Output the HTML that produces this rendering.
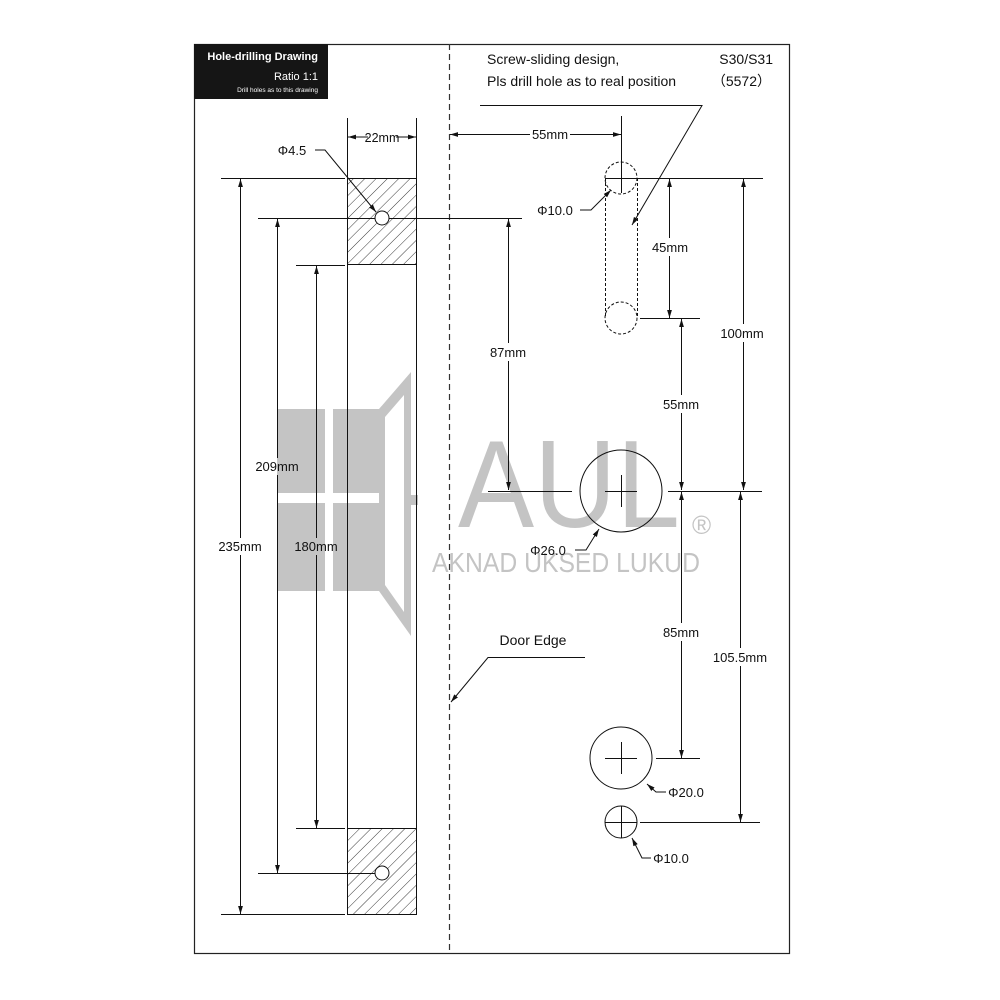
<!DOCTYPE html>
<html><head><meta charset="utf-8"><style>
html,body{margin:0;padding:0;background:#fff}
svg{display:block}
text{font-family:"Liberation Sans",sans-serif;fill:#111}
</style></head><body>
<svg width="1000" height="1000" viewBox="0 0 1000 1000" xmlns="http://www.w3.org/2000/svg">
<defs>
<pattern id="h" width="8" height="8" patternUnits="userSpaceOnUse" patternTransform="rotate(45)">
<line x1="0" y1="0" x2="0" y2="8" stroke="#222" stroke-width="0.9"/>
</pattern>
<marker id="a" viewBox="0 0 10 10" refX="10" refY="5" markerWidth="8" markerHeight="8" orient="auto-start-reverse" markerUnits="userSpaceOnUse">
<path d="M0,2 L10,5 L0,8 z" fill="#111"/>
</marker>
</defs>
<rect width="1000" height="1000" fill="#fff"/>

<!-- watermark -->
<g fill="#c4c4c4">
<rect x="277" y="409" width="48" height="84"/>
<rect x="333" y="409" width="46" height="84"/>
<rect x="277" y="503" width="48" height="88"/>
<rect x="333" y="503" width="46" height="88"/>
<path d="M379,409 L411,372 L411,636 L379,591 Z M385,417 L404,395 L404,612 L385,585 Z" fill-rule="evenodd"/>
<rect x="409" y="495" width="9" height="10"/>
<text x="458" y="527" font-size="124" textLength="222" lengthAdjust="spacingAndGlyphs" style="fill:#c4c4c4">AUL</text>
<text x="432" y="572" font-size="28" textLength="268" lengthAdjust="spacingAndGlyphs" style="fill:#c4c4c4">AKNAD UKSED LUKUD</text>
<text x="692" y="534" font-size="26" style="fill:#c4c4c4">®</text>
</g>

<!-- frame -->
<rect x="194.5" y="44.5" width="595" height="909" fill="none" stroke="#222" stroke-width="1.2"/>
<line x1="449.5" y1="44" x2="449.5" y2="953" stroke="#333" stroke-width="1.2" stroke-dasharray="6,4"/>

<!-- header -->
<rect x="194" y="44" width="134" height="55" fill="#151515"/>
<text x="318" y="60" font-size="11" font-weight="bold" text-anchor="end" style="fill:#fff">Hole-drilling Drawing</text>
<text x="318" y="80" font-size="11" text-anchor="end" style="fill:#fff">Ratio 1:1</text>
<text x="318" y="92" font-size="6.5" text-anchor="end" style="fill:#fff">Drill holes as to this drawing</text>

<g stroke="#111" stroke-width="1" fill="none">
<!-- plate -->
<rect x="347" y="178" width="69" height="87" fill="url(#h)" stroke="none"/>
<rect x="347" y="828" width="69" height="87" fill="url(#h)" stroke="none"/>
<line x1="347.5" y1="118" x2="347.5" y2="915"/>
<line x1="416.5" y1="118" x2="416.5" y2="915"/>
<line x1="347" y1="178.5" x2="416" y2="178.5"/>
<line x1="347" y1="264.5" x2="416" y2="264.5"/>
<line x1="347" y1="828.5" x2="416" y2="828.5"/>
<line x1="347" y1="914.5" x2="416" y2="914.5"/>
<circle cx="382" cy="218" r="7" fill="#fff"/>
<circle cx="382" cy="873" r="7" fill="#fff"/>
<line x1="348" y1="137" x2="368" y2="137" marker-start="url(#a)"/>
<line x1="396" y1="137" x2="416" y2="137" marker-end="url(#a)"/>
<path d="M315,150 L325,150 L376,212" marker-end="url(#a)"/>

<!-- left dims -->
<line x1="221" y1="178.5" x2="345" y2="178.5"/>
<line x1="258" y1="218.5" x2="375" y2="218.5"/>
<line x1="389" y1="218.5" x2="522" y2="218.5"/>
<line x1="296" y1="265.5" x2="345" y2="265.5"/>
<line x1="296" y1="828.5" x2="345" y2="828.5"/>
<line x1="258" y1="873.5" x2="375" y2="873.5"/>
<line x1="221" y1="914.5" x2="345" y2="914.5"/>
<line x1="240.5" y1="538" x2="240.5" y2="179" marker-end="url(#a)"/>
<line x1="240.5" y1="555" x2="240.5" y2="914" marker-end="url(#a)"/>
<line x1="277.5" y1="458" x2="277.5" y2="219" marker-end="url(#a)"/>
<line x1="277.5" y1="475" x2="277.5" y2="873" marker-end="url(#a)"/>
<line x1="316.5" y1="538" x2="316.5" y2="266" marker-end="url(#a)"/>
<line x1="316.5" y1="555" x2="316.5" y2="828" marker-end="url(#a)"/>

<!-- right: 55mm top -->
<line x1="530" y1="134.5" x2="450" y2="134.5" marker-end="url(#a)"/>
<line x1="570" y1="134.5" x2="621" y2="134.5" marker-end="url(#a)"/>
<line x1="621.5" y1="116" x2="621.5" y2="193"/>
<!-- slot -->
<g stroke-dasharray="3,2">
<circle cx="621" cy="178" r="16"/>
<circle cx="621" cy="318" r="16"/>
<line x1="605.5" y1="178" x2="605.5" y2="318"/>
<line x1="637.5" y1="178" x2="637.5" y2="318"/>
</g>
<line x1="605" y1="178.5" x2="763" y2="178.5"/>
<line x1="640" y1="318.5" x2="700" y2="318.5"/>
<path d="M480,105.5 L702,105.5 L632,225" marker-end="url(#a)"/>
<path d="M580,210 L591,210 L611,190" marker-end="url(#a)"/>
<line x1="669.5" y1="238" x2="669.5" y2="179" marker-end="url(#a)"/>
<line x1="669.5" y1="256" x2="669.5" y2="318" marker-end="url(#a)"/>
<line x1="743.5" y1="324" x2="743.5" y2="179" marker-end="url(#a)"/>
<line x1="743.5" y1="342" x2="743.5" y2="490" marker-end="url(#a)"/>
<line x1="681.5" y1="395" x2="681.5" y2="319" marker-end="url(#a)"/>
<line x1="681.5" y1="413" x2="681.5" y2="490" marker-end="url(#a)"/>
<line x1="508.5" y1="343" x2="508.5" y2="219" marker-end="url(#a)"/>
<line x1="508.5" y1="361" x2="508.5" y2="490" marker-end="url(#a)"/>
<!-- big hole -->
<line x1="488" y1="491.5" x2="572" y2="491.5"/>
<line x1="668" y1="491.5" x2="762" y2="491.5"/>
<circle cx="621" cy="491" r="41"/>
<line x1="605" y1="491.5" x2="637" y2="491.5"/>
<line x1="621.5" y1="475" x2="621.5" y2="507"/>
<path d="M575,550 L586,550 L599,529" marker-end="url(#a)"/>
<!-- lower dims -->
<line x1="681.5" y1="623" x2="681.5" y2="492" marker-end="url(#a)"/>
<line x1="681.5" y1="641" x2="681.5" y2="758" marker-end="url(#a)"/>
<line x1="740.5" y1="648" x2="740.5" y2="492" marker-end="url(#a)"/>
<line x1="740.5" y1="666" x2="740.5" y2="822" marker-end="url(#a)"/>
<circle cx="621" cy="758" r="31"/>
<line x1="605" y1="758.5" x2="637" y2="758.5"/>
<line x1="621.5" y1="742" x2="621.5" y2="774"/>
<line x1="656" y1="758.5" x2="700" y2="758.5"/>
<path d="M666,792 L656,792 L647,784" marker-end="url(#a)"/>
<circle cx="621" cy="822" r="16"/>
<line x1="605" y1="822.5" x2="637" y2="822.5"/>
<line x1="621.5" y1="806" x2="621.5" y2="838"/>
<line x1="640" y1="822.5" x2="760" y2="822.5"/>
<path d="M651,858 L642,858 L632,838" marker-end="url(#a)"/>
<!-- door edge -->
<path d="M585,657.5 L488,657.5 L451,702" marker-end="url(#a)"/>
</g>

<g font-size="13">
<text x="292" y="155" text-anchor="middle">Φ4.5</text>
<text x="382" y="142" text-anchor="middle" font-size="12.5">22mm</text>
<text x="240" y="551" text-anchor="middle">235mm</text>
<text x="277" y="471" text-anchor="middle">209mm</text>
<text x="316" y="551" text-anchor="middle">180mm</text>
<text x="487" y="64" font-size="14">Screw-sliding design,</text>
<text x="487" y="86" font-size="14">Pls drill hole as to real position</text>
<text x="773" y="64" font-size="14" text-anchor="end">S30/S31</text>
<text x="771" y="86" font-size="14" text-anchor="end">（5572）</text>
<text x="550" y="139" text-anchor="middle">55mm</text>
<text x="555" y="215" text-anchor="middle">Φ10.0</text>
<text x="670" y="252" text-anchor="middle">45mm</text>
<text x="742" y="338" text-anchor="middle">100mm</text>
<text x="681" y="409" text-anchor="middle">55mm</text>
<text x="508" y="357" text-anchor="middle">87mm</text>
<text x="548" y="555" text-anchor="middle">Φ26.0</text>
<text x="681" y="637" text-anchor="middle">85mm</text>
<text x="740" y="662" text-anchor="middle">105.5mm</text>
<text x="533" y="645" text-anchor="middle" font-size="14">Door Edge</text>
<text x="686" y="797" text-anchor="middle">Φ20.0</text>
<text x="671" y="863" text-anchor="middle">Φ10.0</text>
</g>
</svg>
</body></html>
